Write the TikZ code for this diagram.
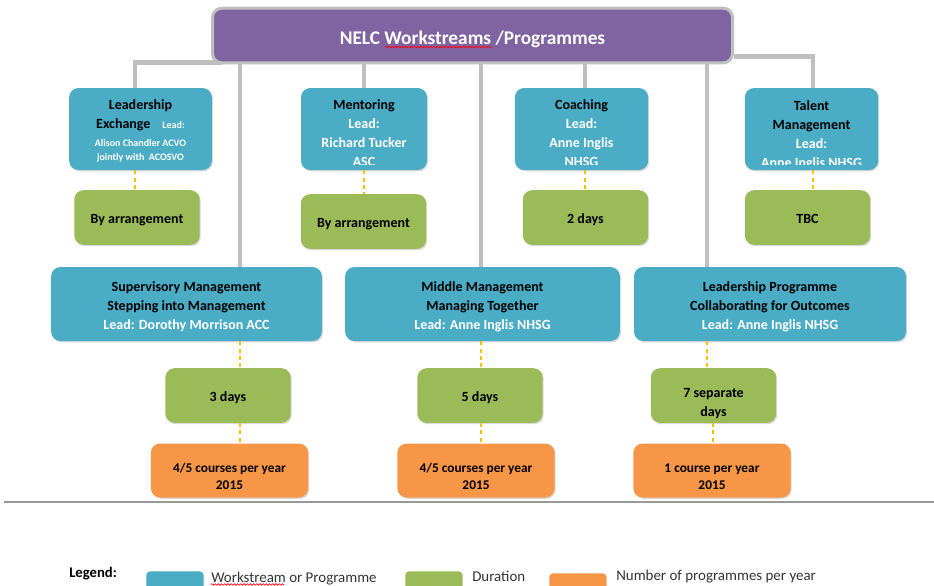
\documentclass[tikz,border=0pt]{standalone}
\usepackage{fontspec}
\setmainfont{Carlito}
\definecolor{titlepurple}{RGB}{128,100,162}
\definecolor{framegray}{RGB}{191,191,191}
\definecolor{streamblue}{RGB}{75,172,198}
\definecolor{spangreen}{RGB}{155,187,89}
\definecolor{runorange}{RGB}{247,150,70}
\definecolor{tiegold}{RGB}{255,192,0}
\usetikzlibrary{positioning,shadows,backgrounds,decorations.pathmorphing}

\newcommand{\leadname}[1]{\textcolor{white}{#1}}
\newcommand{\smalllead}[1]{{\color{white}\fontsize{7.5}{10}\selectfont #1}}
% invisible strut on a first line, pushes multi-line text down
\newcommand{\topstrut}[1]{\rule{0pt}{#1}}

\tikzset{
  % struts push single-line text a little below the box middle
  lift/.style={execute at begin node={\rule{0pt}{#1}},
    execute at end node={\rule[-2.5pt]{0pt}{0pt}}},
  panel/.style={rounded corners=7pt, inner sep=2pt, align=center,
    font=\fontsize{10.5}{14.25}\selectfont\bfseries,
    drop shadow={shadow xshift=0.8pt, shadow yshift=-1pt, opacity=0.3}},
  titlebox/.style={fill=titlepurple, draw=framegray, line width=2.25pt,
    rounded corners=7pt, minimum width=390pt, minimum height=41pt, lift=16pt,
    text=white, font=\fontsize{14.5}{17}\selectfont\bfseries},
  streambox/.style={panel, fill=streamblue, minimum height=61.5pt},
  streamtext/.style={inner sep=0pt, align=center,
    font=\fontsize{10.5}{14.25}\selectfont\bfseries},
  progbox/.style={panel, fill=streamblue, minimum height=55.5pt},
  spanbox/.style={panel, fill=spangreen, minimum width=94pt, minimum height=41pt},
  runbox/.style={panel, fill=runorange, minimum width=118pt, minimum height=40.5pt,
    font=\fontsize{10}{12.75}\selectfont\bfseries},
  trunkline/.style={draw=framegray, line width=3.5pt},
  tieline/.style={draw=tiegold, line width=0.8pt, dash pattern=on 3pt off 2.5pt},
  swatch/.style={rounded corners=3pt, minimum width=43pt, minimum height=20pt, inner sep=0pt},
  keytext/.style={anchor=west, inner sep=0pt, text=black!80,
    font=\fontsize{11.2}{13}\selectfont},
  typo/.style={draw=red, line width=0.5pt, decorate,
    decoration={snake, amplitude=0.6pt, segment length=2.4pt}}
}

\begin{document}
\begin{tikzpicture}[x=0.75pt, y=-0.75pt]
  \clip (0,0) rectangle (934,585);

  % column positions of the connectors
  \coordinate (colexch) at (135,0);
  \coordinate (colsup) at (240,0);
  \coordinate (colmid) at (481,0);
  \coordinate (colcoach) at (585,0);
  \coordinate (colprog) at (707,0);
  \coordinate (colprogb) at (713,0);
  \coordinate (coltal) at (813,0);

  \node[titlebox] (title) at (472.5,35.5) {NELC Workstreams /Programmes};
  \draw[typo] (385,47) -- (492,47);

  % workstreams, text cut off near the bottom edge
  \node[streambox, minimum width=107pt] (exch) at (140.5,129) {};
  \begin{scope}
    \clip (exch.north west) rectangle ([yshift=4.5pt]exch.south east);
    \node[streamtext, below=8.75pt of exch.north] (exch-txt)
      {Leadership\\
       Exchange\hspace{9pt}\smalllead{Lead:}\\[-1pt]
       \smalllead{Alison Chandler ACVO}\\[-3.75pt]
       \smalllead{jointly with~~ACOSVO}};
  \end{scope}

  \node[streambox, minimum width=94.5pt] (ment) at (364,129) {};
  \begin{scope}
    \clip (ment.north west) rectangle ([yshift=4.5pt]ment.south east);
    \node[streamtext, below=8.75pt of ment.north] (ment-txt)
      {Mentoring\\ \leadname{Lead:}\\ \leadname{Richard Tucker}\\ \leadname{ASC}};
  \end{scope}

  \node[streambox, minimum width=100pt] (coach) at (581.5,129) {};
  \begin{scope}
    \clip (coach.north west) rectangle ([yshift=4.5pt]coach.south east);
    \node[streamtext, below=8.75pt of coach.north] (coach-txt)
      {Coaching\\ \leadname{Lead:}\\ \leadname{Anne Inglis}\\ \leadname{NHSG}};
  \end{scope}

  \node[streambox, minimum width=100pt] (tal) at (811.5,129) {};
  \begin{scope}
    \clip (tal.north west) rectangle ([yshift=4.5pt]tal.south east);
    \node[streamtext, below=9.5pt of tal.north] (tal-txt)
      {Talent\\ Management\\ \leadname{Lead:}\\ \leadname{Anne Inglis NHSG}};
  \end{scope}

  \node[spanbox, lift=11.5pt] (exch-days) at (137,217.5) {By arrangement};
  \node[spanbox, lift=11.5pt] (ment-days) at (363.5,221.5) {By arrangement};
  \node[spanbox, lift=11.5pt] (coach-days) at (585.5,217.5) {2 days};
  \node[spanbox, lift=11.5pt] (tal-days) at (807.5,217.5) {TBC};

  % programmes
  \node[progbox, minimum width=203pt] (superv) at (186.5,304)
    {\topstrut{11.7pt}Supervisory Management\\ Stepping into Management\\ \leadname{Lead: Dorothy Morrison ACC}};
  \node[progbox, minimum width=206pt] (middle) at (482.5,304)
    {\topstrut{11.7pt}Middle Management\\ Managing Together\\ \leadname{Lead: Anne Inglis NHSG}};
  \node[progbox, minimum width=204pt] (leadprog) at (770,304)
    {\topstrut{11.7pt}Leadership Programme\\ Collaborating for Outcomes\\ \leadname{Lead: Anne Inglis NHSG}};

  \node[spanbox, lift=11.5pt] (superv-days) at (228,395.5) {3 days};
  \node[spanbox, lift=11.5pt] (middle-days) at (480,395.5) {5 days};
  \node[spanbox] (leadprog-days) at (713.5,395.5) {\topstrut{18.8pt}7 separate\\ days};

  \node[runbox] (superv-runs) at (229.5,470.5) {\topstrut{16.5pt}4/5 courses per year\\ 2015};
  \node[runbox] (middle-runs) at (476,470.5) {\topstrut{16.5pt}4/5 courses per year\\ 2015};
  \node[runbox] (leadprog-runs) at (712,470.5) {\topstrut{16.5pt}1 course per year\\ 2015};

  % grey tree behind the boxes
  \begin{scope}[on background layer]
    \draw[trunkline] ([xshift=8pt,yshift=1.5pt]title.south west) -| (exch.north -| colexch);
    \draw[trunkline] ([yshift=-16pt]title.east) -| (tal.north -| coltal);
    \draw[trunkline] (title.south -| colsup) -- (superv.north -| colsup);
    \draw[trunkline] (title.south -| ment.north) -- (ment.north);
    \draw[trunkline] (title.south -| colmid) -- (middle.north -| colmid);
    \draw[trunkline] (title.south -| colcoach) -- (coach.north -| colcoach);
    \draw[trunkline] (title.south -| colprog) -- (leadprog.north -| colprog);
  \end{scope}

  % dashed ties to duration and count
  \draw[tieline] (exch.south -| colexch) -- (exch-days.north -| colexch);
  \draw[tieline] (ment.south) -- (ment-days.north -| ment.south);
  \draw[tieline] (coach.south -| colcoach) -- (coach-days.north -| colcoach);
  \draw[tieline] (tal.south -| coltal) -- (tal-days.north -| coltal);
  \draw[tieline] (superv.south -| colsup) -- (superv-days.north -| colsup);
  \draw[tieline] (superv-days.south -| colsup) -- (superv-runs.north -| colsup);
  \draw[tieline] (middle.south -| colmid) -- (middle-days.north -| colmid);
  \draw[tieline] (middle-days.south -| colmid) -- (middle-runs.north -| colmid);
  \draw[tieline] (leadprog.south -| colprog) -- (leadprog-days.north -| colprog);
  \draw[tieline] (leadprog-days.south -| colprogb) -- (leadprog-runs.north -| colprogb);

  \draw[black!40, line width=1.5pt] (4,502) -- (934,502);

  % legend
  \node[anchor=west, inner sep=0pt, font=\fontsize{11}{13}\selectfont\bfseries] (legend) at (69,574) {Legend:};
  \node[swatch, fill=streamblue, anchor=north west] (key-stream) at (146,571) {};
  \node[keytext] (key-stream-txt) at (211,579) {Workstream or Programme};
  \draw[typo] (211,584.5) -- (284,584.5);
  \node[swatch, fill=spangreen, anchor=north west] (key-span) at (405,571) {};
  \node[keytext] (key-span-txt) at (472,576) {Duration};
  \node[swatch, fill=runorange, anchor=north west] (key-run) at (549,573) {};
  \node[keytext] (key-run-txt) at (616,577) {Number of programmes per year};
\end{tikzpicture}
\end{document}
